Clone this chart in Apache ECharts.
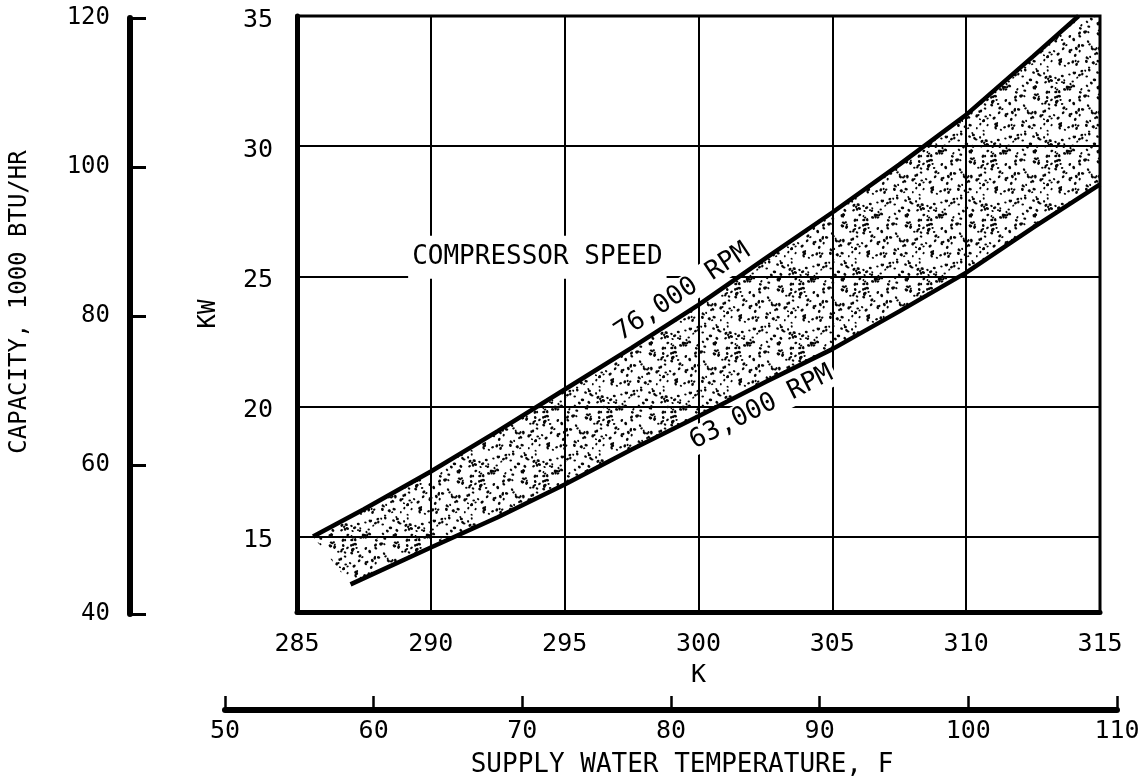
<!DOCTYPE html>
<html>
<head>
<meta charset="utf-8">
<script src="https://cdn.jsdelivr.net/npm/echarts@6/dist/echarts.min.js"></script>
<style>
  html, body { margin: 0; padding: 0; background: #fff; }
  #chart { width: 1146px; height: 783px; }
</style>
</head>
<body>
<div id="chart"></div>
<script>
// Compressor power vs. supply water temperature for two compressor speeds.
// Points are [temperature K, power KW].
const speed76k = [
  [285.6, 15.0], [287.5, 16.05], [290, 17.5], [292.5, 19.05], [295, 20.65],
  [297.5, 22.25], [300, 23.9], [302.5, 25.69], [305, 27.45], [307.5, 29.29],
  [310, 31.2], [312.5, 33.45], [314.2, 35.0]
];
const speed63k = [
  [287.0, 13.16], [290, 14.58], [292.5, 15.74], [295, 17.0], [297.5, 18.34],
  [300, 19.62], [302.5, 20.94], [305, 22.2], [307.5, 23.65], [310, 25.14],
  [312.5, 26.87], [315, 28.53]
];
const kelvinTicks = [285, 290, 295, 300, 305, 310, 315];
const kwTicks = [15, 20, 25, 30, 35];
const capacityTicks = [40, 60, 80, 100, 120];
const fahrenheitTicks = [50, 60, 70, 80, 90, 100, 110];
const curveNames = ['76,000 RPM', '63,000 RPM'];
const bandTitle = 'COMPRESSOR SPEED';

const FONT = '"DejaVu Sans Mono", "Liberation Mono", monospace';
const INK = '#000';

// Stippled texture for the operating band (deterministic dot scatter).
function makeStipple() {
  const size = 64;
  const c = document.createElement('canvas');
  c.width = size; c.height = size;
  const ctx = c.getContext('2d');
  let s = 1234567;
  const rnd = () => { s = (s * 1103515245 + 12345) % 2147483648; return s / 2147483648; };
  ctx.fillStyle = '#050505';
  const dot = (x, y, rx, ry, a) => { ctx.beginPath(); ctx.ellipse(x, y, rx, ry, a, 0, Math.PI * 2); ctx.fill(); };
  for (let i = 0; i < 145; i++) {
    const x = rnd() * size, y = rnd() * size;
    const r = 0.9 + rnd() * 0.6;
    const a = rnd() * Math.PI;
    // draw with wrap-around so the tile repeats seamlessly
    for (const dx of [-size, 0, size]) {
      for (const dy of [-size, 0, size]) {
        dot(x + dx, y + dy, r * 1.2, r * 0.95, a);
      }
    }
  }
  return c;
}
const stipple = makeStipple();

const kMin = kelvinTicks[0], kMax = kelvinTicks[kelvinTicks.length - 1];
const kwMax = kwTicks[kwTicks.length - 1];

const chart = echarts.init(document.getElementById('chart'), null, { renderer: 'canvas' });

const labelText = (size) => ({ color: INK, fontFamily: FONT, fontSize: size });

chart.setOption({
  animation: false,
  backgroundColor: '#fff',
  grid: [
    { left: 297, right: 46, top: 16, bottom: 171, show: true, borderColor: INK, borderWidth: 3, backgroundColor: 'transparent' },
    { left: 130, width: 20, top: 18, bottom: 169 },
    { left: 225, right: 29, top: 709, height: 1 }
  ],
  xAxis: [
    {
      gridIndex: 0, type: 'value', min: kMin, max: kMax, interval: 5,
      axisLine: { onZero: false, lineStyle: { color: INK, width: 5 } },
      axisTick: { show: false },
      axisLabel: Object.assign({ margin: 20 }, labelText(25)),
      splitLine: { show: true, lineStyle: { color: INK, width: 2 } },
      name: 'K', nameLocation: 'middle', nameGap: 51,
      nameTextStyle: labelText(25)
    },
    { gridIndex: 1, type: 'value', show: false, min: 0, max: 1 },
    {
      gridIndex: 2, type: 'value',
      min: fahrenheitTicks[0], max: fahrenheitTicks[fahrenheitTicks.length - 1], interval: 10,
      axisLine: { onZero: false, lineStyle: { color: INK, width: 6 } },
      axisTick: { show: true, inside: true, length: 14, lineStyle: { color: INK, width: 2.5 } },
      axisLabel: Object.assign({ margin: 9 }, labelText(25)),
      splitLine: { show: false },
      name: 'SUPPLY WATER TEMPERATURE, F', nameLocation: 'middle', nameGap: 42,
      nameTextStyle: Object.assign({ padding: [0, 0, 0, 22] }, labelText(26))
    }
  ],
  yAxis: [
    {
      gridIndex: 0, type: 'value', min: 12.1, max: kwMax,
      axisLine: { onZero: false, lineStyle: { color: INK, width: 5 } },
      axisTick: { show: false, customValues: kwTicks },
      axisLabel: Object.assign({ margin: 24, customValues: kwTicks, lineHeight: 34, verticalAlign: 'top', padding: [-13, 0, 0, 0] }, labelText(25)),
      splitLine: { show: true, lineStyle: { color: INK, width: 2 } },
      name: 'KW', nameLocation: 'middle', nameGap: 76,
      nameTextStyle: labelText(24)
    },
    {
      gridIndex: 1, type: 'value',
      min: capacityTicks[0], max: capacityTicks[capacityTicks.length - 1], interval: 20,
      axisLine: { onZero: false, lineStyle: { color: INK, width: 6 } },
      axisTick: { show: true, inside: true, length: 16, lineStyle: { color: INK, width: 3 } },
      axisLabel: Object.assign({ margin: 20 }, labelText(24)),
      splitLine: { show: false }
    },
    { gridIndex: 2, type: 'value', show: false, min: 0, max: 1 }
  ],
  graphic: [
    {
      type: 'text', x: 20, y: 302, rotation: Math.PI / 2,
      style: { text: 'CAPACITY, 1000 BTU/HR', font: '24px ' + FONT, fill: INK, align: 'center', verticalAlign: 'middle' }
    }
  ],
  series: [
    {
      // shaded operating band between the two speed curves
      type: 'custom', coordinateSystem: 'cartesian2d', xAxisIndex: 0, yAxisIndex: 0,
      silent: true, z: 1, data: [[300, 20]],
      renderItem: function (params, api) {
        const pts = speed76k.map(p => api.coord(p));
        pts.push(api.coord([kMax, kwMax]));
        for (let i = speed63k.length - 1; i >= 0; i--) pts.push(api.coord(speed63k[i]));
        return {
          type: 'polygon',
          shape: { points: pts },
          style: { fill: { image: stipple, repeat: 'repeat' }, stroke: null }
        };
      }
    },
    {
      name: curveNames[0], type: 'line', xAxisIndex: 0, yAxisIndex: 0, z: 3,
      data: speed76k, showSymbol: false, smooth: false,
      lineStyle: { color: INK, width: 4.5 }
    },
    {
      name: curveNames[1], type: 'line', xAxisIndex: 0, yAxisIndex: 0, z: 3,
      data: speed63k, showSymbol: false, smooth: false,
      lineStyle: { color: INK, width: 4.5 }
    },
    {
      // curve annotations
      type: 'custom', coordinateSystem: 'cartesian2d', xAxisIndex: 0, yAxisIndex: 0,
      silent: true, z: 4,
      data: [[293.98, 25.73, 0], [299.4, 24.39, 1], [302.35, 19.96, 2]],
      renderItem: function (params, api) {
        const idx = api.value(2);
        const pt = api.coord([api.value(0), api.value(1)]);
        const texts = [bandTitle, curveNames[0], curveNames[1]];
        const rot = [0, 0.585, 0.466];
        const pads = [[10, 4, 7, 4], [2, 3, 0, 3], [0, 3, 2, 3]];
        return {
          type: 'text', x: pt[0], y: pt[1], rotation: rot[idx],
          style: {
            text: texts[idx], font: '26px ' + FONT, fill: INK,
            align: 'center', verticalAlign: 'middle',
            backgroundColor: '#fff', padding: pads[idx]
          }
        };
      }
    }
  ]
});
</script>
</body>
</html>
